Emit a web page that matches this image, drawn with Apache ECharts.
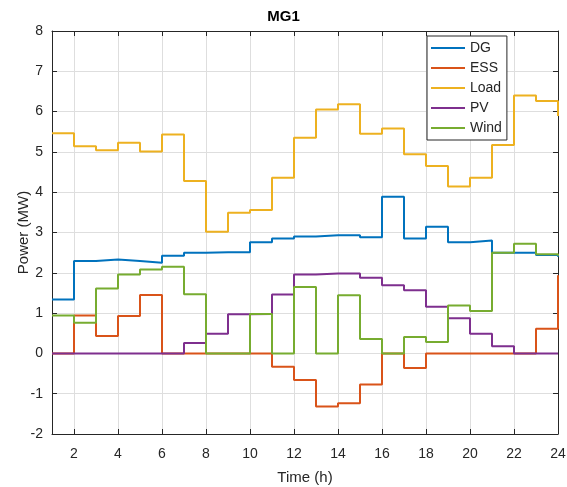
<!DOCTYPE html>
<html>
<head>
<meta charset="utf-8">
<script src="https://cdn.jsdelivr.net/npm/echarts@6/dist/echarts.min.js"></script>
<style>html,body{margin:0;padding:0;background:#fff;}#c{width:567px;height:487px;}</style>
</head>
<body>
<div id="c"></div>
<script>
var hours = [1,2,3,4,5,6,7,8,9,10,11,12,13,14,15,16,17,18,19,20,21,22,23,24];
var DG   = [1.34,2.29,2.33,2.29,2.25,2.42,2.50,2.51,2.51,2.76,2.85,2.90,2.93,2.93,2.88,3.89,2.85,3.14,2.76,2.80,2.50,2.50,2.44,2.40];
var ESS  = [0,0.94,0.43,0.93,1.45,0,0,0,0,0,-0.33,-0.66,-1.32,-1.24,-0.77,0,-0.36,0,0,0,0,0,0.61,1.94];
var Load = [5.46,5.14,5.04,5.23,5.01,5.43,4.28,3.02,3.49,3.56,4.36,5.35,6.05,6.18,5.45,5.58,4.94,4.65,4.14,4.36,5.17,6.40,6.26,5.89];
var PV   = [0,0,0,0,0,0,0.26,0.49,0.97,0.98,1.46,1.96,1.98,1.98,1.88,1.69,1.57,1.16,0.87,0.49,0.18,0,0,0];
var Wind = [0.94,0.76,1.61,1.96,2.08,2.15,1.47,0,0,0.98,0,1.65,0,1.44,0.36,0,0.41,0.28,1.19,1.05,2.50,2.72,2.46,2.42];
var xTicks = [2,4,6,8,10,12,14,16,18,20,22,24];
var names = ['DG','ESS','Load','PV','Wind'];
var colors = ['#0072BD','#D95319','#EDB120','#7E2F8E','#77AC30'];
var seriesVals = [DG, ESS, Load, PV, Wind];

function pairs(v){ return hours.map(function(h,i){ return [h, v[i]]; }); }

var axisCol = '#262626';
var font = 'Liberation Sans, Arial, sans-serif';
var chart = echarts.init(document.getElementById('c'), null, {renderer:'canvas'});
var series = names.map(function(n,i){
  return {
    name: n, type: 'line', step: 'end', data: pairs(seriesVals[i]),
    symbol: 'none', showSymbol: false, animation: false,
    lineStyle: {color: colors[i], width: 2}, itemStyle: {color: colors[i]},
    xAxisIndex: 0, yAxisIndex: 0
  };
});
chart.setOption({
  animation: false,
  backgroundColor: '#fff',
  title: {text: 'MG1', left: 'center', top: 9, padding: 0,
    textStyle: {fontFamily: font, fontSize: 15, fontWeight: 'bold', color: '#000'}},
  grid: {left: 52, right: 9, top: 31, bottom: 53, containLabel: false, outerBoundsMode: 'none'},
  legend: {
    orient: 'vertical', left: 427, top: 36,
    data: names.map(function(n){ return {name: n, icon: 'rect'}; }),
    itemWidth: 34, itemHeight: 2, itemGap: 6, itemTextGap: 4,
    padding: [5, 5, 5, 4],
    backgroundColor: '#fff', borderColor: axisCol, borderWidth: 1, borderRadius: 0,
    textStyle: {fontFamily: font, fontSize: 14, color: axisCol, lineHeight: 14}
  },
  xAxis: [{
    type: 'value', min: 1, max: 24, position: 'bottom',
    name: 'Time (h)', nameLocation: 'middle', nameGap: 36, nameMoveOverlap: false,
    nameTextStyle: {fontFamily: font, fontSize: 15, color: axisCol},
    axisLine: {show: true, onZero: false, lineStyle: {color: axisCol, width: 1}},
    axisTick: {show: true, inside: true, length: 5, customValues: xTicks, lineStyle: {color: axisCol}},
    axisLabel: {customValues: xTicks, fontFamily: font, fontSize: 14, color: axisCol, margin: 13},
    splitLine: {show: true, lineStyle: {color: '#dedede', width: 1}}
  },{
    type: 'value', min: 1, max: 24, position: 'top',
    axisLine: {show: true, onZero: false, lineStyle: {color: axisCol, width: 1}},
    axisTick: {show: true, inside: true, length: 5, customValues: xTicks, lineStyle: {color: axisCol}},
    axisLabel: {show: false}, splitLine: {show: false}
  }],
  yAxis: [{
    type: 'value', min: -2, max: 8, interval: 1, position: 'left',
    name: 'Power (MW)', nameLocation: 'middle', nameGap: 21, nameMoveOverlap: false,
    nameTextStyle: {fontFamily: font, fontSize: 15, color: axisCol},
    axisLine: {show: true, onZero: false, lineStyle: {color: axisCol, width: 1}},
    axisTick: {show: true, inside: true, length: 5, lineStyle: {color: axisCol}},
    axisLabel: {fontFamily: font, fontSize: 14, color: axisCol, margin: 9},
    splitLine: {show: true, lineStyle: {color: '#dedede', width: 1}}
  },{
    type: 'value', min: -2, max: 8, interval: 1, position: 'right',
    axisLine: {show: true, onZero: false, lineStyle: {color: axisCol, width: 1}},
    axisTick: {show: true, inside: true, length: 5, lineStyle: {color: axisCol}},
    axisLabel: {show: false}, splitLine: {show: false}
  }],
  series: series
});
</script>
</body>
</html>
